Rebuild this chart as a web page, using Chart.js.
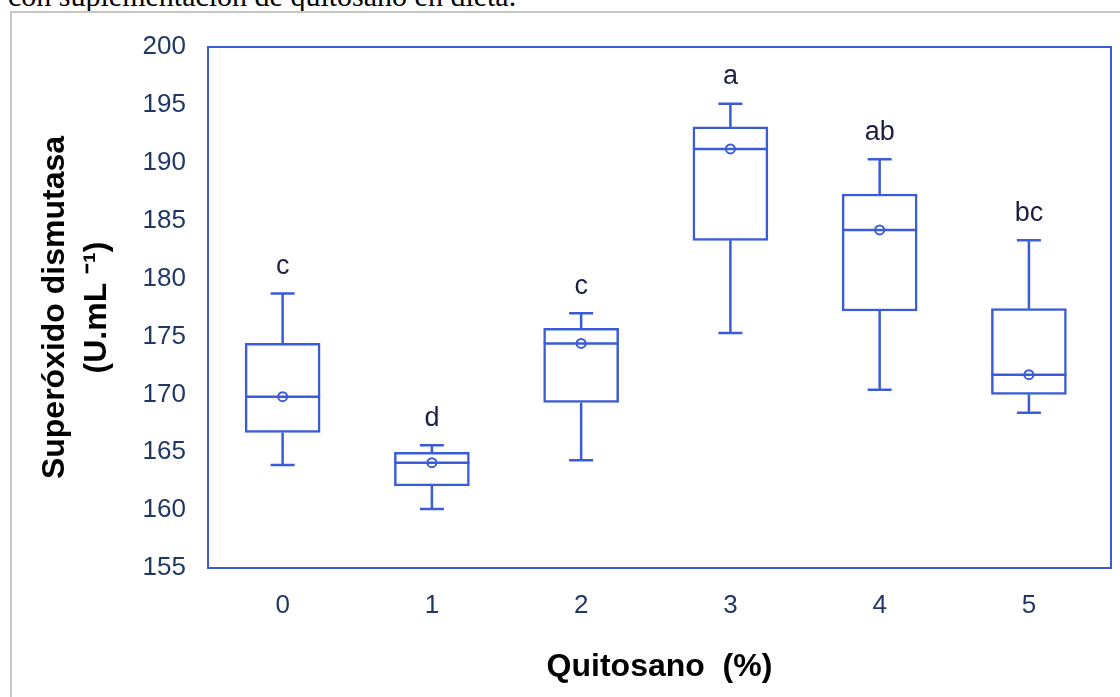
<!DOCTYPE html>
<html>
<head>
<meta charset="utf-8">
<script src="https://cdn.jsdelivr.net/npm/chart.js@4"></script>
<style>
  html, body { margin: 0; padding: 0; background: #fff; }
  body { width: 1120px; height: 697px; position: relative; overflow: hidden; }
  #caption { position: absolute; left: 8px; top: -19px; font: 30px/30px "Liberation Serif", serif; color: #000; white-space: nowrap; }
  #frame { position: absolute; left: 10px; top: 11px; width: 1120px; height: 700px; border-left: 2px solid #c6c6c6; border-top: 2px solid #c6c6c6; }
  #myChart { position: absolute; left: 0; top: 0; }
</style>
</head>
<body>
<div id="caption">con suplementación de quitosano en dieta.</div>
<div id="frame"></div>
<canvas id="myChart" width="1120" height="697"></canvas>
<script>
const ctx = document.getElementById('myChart');

// valores (Quitosano %)
const categories = [0, 1, 2, 3, 4, 5];
const whiskerMin = [163.9, 160.1, 164.3, 175.3, 170.4, 168.4];
const q1 = [166.7, 162.1, 169.3, 183.3, 177.2, 170.0];
const medians = [169.8, 164.1, 174.4, 191.2, 184.2, 171.7];
const q3 = [174.4, 165.0, 175.7, 193.1, 187.3, 177.4];
const whiskerMax = [178.7, 165.6, 177.0, 195.1, 190.3, 183.3];
const means = [169.8, 164.1, 174.4, 191.2, 184.2, 171.7];
const letters = ['c', 'd', 'c', 'a', 'ab', 'bc'];
const yTicks = [155, 160, 165, 170, 175, 180, 185, 190, 195, 200];

const blue = '#3b5cd8';
const navy = '#1f3866';

// marco, bigotes, mediana y letras
const boxParts = {
    id: 'boxParts',
    beforeDatasetsDraw(chart) {
        const { ctx, chartArea: a } = chart;
        ctx.save();
        ctx.strokeStyle = blue;
        ctx.lineWidth = 2;
        ctx.strokeRect(a.left, a.top, a.right - a.left, a.bottom - a.top);
        ctx.restore();
    },
    afterDatasetDraw(chart, args) {
        if (args.index !== 0) return;
        const { ctx, scales: { x, y } } = chart;
        const half = 37.5;
        const cap = 12;
        ctx.save();
        ctx.strokeStyle = blue;
        ctx.lineWidth = 2.5;
        categories.forEach((c, i) => {
            const px = x.getPixelForValue(c);
            ctx.beginPath();
            ctx.moveTo(px, y.getPixelForValue(q3[i]));
            ctx.lineTo(px, y.getPixelForValue(whiskerMax[i]));
            ctx.moveTo(px - cap, y.getPixelForValue(whiskerMax[i]));
            ctx.lineTo(px + cap, y.getPixelForValue(whiskerMax[i]));
            ctx.moveTo(px, y.getPixelForValue(q1[i]));
            ctx.lineTo(px, y.getPixelForValue(whiskerMin[i]));
            ctx.moveTo(px - cap, y.getPixelForValue(whiskerMin[i]));
            ctx.lineTo(px + cap, y.getPixelForValue(whiskerMin[i]));
            ctx.moveTo(px - half, y.getPixelForValue(medians[i]));
            ctx.lineTo(px + half, y.getPixelForValue(medians[i]));
            ctx.stroke();
        });
        ctx.restore();
    },
    afterDatasetsDraw(chart) {
        const { ctx, scales: { x, y } } = chart;
        ctx.save();
        ctx.fillStyle = '#1c2142';
        ctx.font = '27px "Liberation Sans", Arial, sans-serif';
        ctx.textAlign = 'center';
        ctx.textBaseline = 'middle';
        categories.forEach((c, i) => {
            ctx.fillText(letters[i], x.getPixelForValue(c), y.getPixelForValue(whiskerMax[i]) - 27);
        });
        ctx.restore();
    }
};

var myChart = new Chart(ctx, {
    type: 'bar',
    data: {
        datasets: [{
            label: 'caja',
            order: 1,
            data: categories.map((c, i) => ({ x: c, y: [q1[i], q3[i]] })),
            backgroundColor: '#ffffff',
            borderColor: blue,
            borderWidth: 2.5,
            borderSkipped: false,
            barThickness: 75
        }, {
            type: 'scatter',
            label: 'media',
            order: 0,
            data: categories.map((c, i) => ({ x: c, y: means[i] })),
            pointRadius: 4.5,
            pointBorderWidth: 2,
            pointBorderColor: blue,
            pointBackgroundColor: 'rgba(0,0,0,0)'
        }]
    },
    options: {
        responsive: false,
        animation: false,
        layout: { padding: { top: 47, right: 9, left: 0, bottom: 0 } },
        plugins: {
            legend: { display: false },
            tooltip: { enabled: false }
        },
        scales: {
            x: {
                type: 'linear',
                offset: false,
                min: -0.5,
                max: 5.55,
                grid: { display: false, drawTicks: false },
                border: { display: false },
                afterBuildTicks: (s) => { s.ticks = categories.map(v => ({ value: v })); },
                afterFit: (s) => { s.height = 129; },
                ticks: {
                    color: navy,
                    padding: 22,
                    font: { family: '"Liberation Sans", Arial, sans-serif', size: 26 }
                },
                title: {
                    display: true,
                    text: 'Quitosano  (%)',
                    color: '#000',
                    padding: { top: 0, bottom: 11 },
                    font: { family: '"Liberation Sans", Arial, sans-serif', size: 32, weight: 'bold' }
                }
            },
            y: {
                min: 155,
                max: 200,
                grid: { display: false, drawTicks: false },
                border: { display: false },
                afterBuildTicks: (s) => { s.ticks = yTicks.map(v => ({ value: v })); },
                afterFit: (s) => { s.width = 208; },
                ticks: {
                    color: navy,
                    padding: 22,
                    font: { family: '"Liberation Sans", Arial, sans-serif', size: 26 }
                },
                title: {
                    display: true,
                    text: ['Superóxido dismutasa', '(U.mL ⁻¹)'],
                    color: '#000',
                    padding: { top: 34, bottom: 0 },
                    font: { family: '"Liberation Sans", Arial, sans-serif', size: 32, weight: 'bold', lineHeight: 1.31 }
                }
            }
        }
    },
    plugins: [boxParts]
});
</script>
</body>
</html>
